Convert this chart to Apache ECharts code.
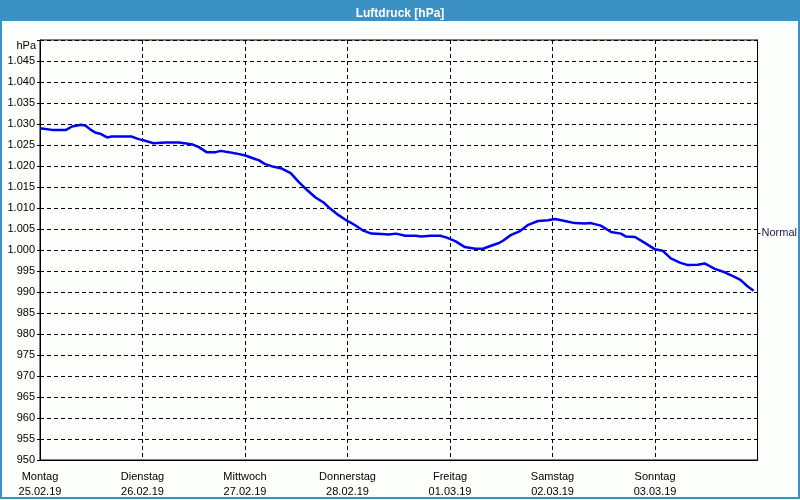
<!DOCTYPE html>
<html>
<head>
<meta charset="utf-8">
<script src="https://cdn.jsdelivr.net/npm/echarts@6/dist/echarts.min.js"></script>
<style>
html,body{margin:0;padding:0;background:#fcfefc;}
#chart{width:800px;height:500px;}
</style>
</head>
<body>
<div id="chart"></div>
<script>
const chartTitle = 'Luftdruck [hPa]';
const unitLabel = 'hPa';
const dayNames = ['Montag','Dienstag','Mittwoch','Donnerstag','Freitag','Samstag','Sonntag'];
const dayDates = ['25.02.19','26.02.19','27.02.19','28.02.19','01.03.19','02.03.19','03.03.19'];
const normalLabel = 'Normal';
const normalValue = 1004;
const hours = [0,2.8,6.1,7.5,9.6,10.7,11.9,13.1,14.3,15.7,16.8,21.5,23.1,24.3,26.6,29.4,32.5,35.5,37.2,39.0,41.1,42.3,44.2,45.8,48.1,50.5,51.2,52.6,54.7,56.6,58.7,60.5,62.4,64.5,66.4,68.0,69.9,71.7,73.8,75.7,77.6,79.9,81.6,83.4,85.5,87.9,89.3,91.4,93.7,95.1,97.2,99.5,101.9,103.7,105.6,107.3,108.4,110.3,112.4,114.3,116.6,118.9,120.6,122.9,125.2,127.6,129.0,131.3,133.7,136.0,137.2,139.3,141.6,143.9,145.8,147.7,149.8,151.7,154.0,155.6,158.0,160.3,162.6,164.0,165.7,167.1];
const pressure = [1029.0,1028.6,1028.6,1029.4,1029.8,1029.6,1028.6,1027.9,1027.6,1026.8,1027.0,1027.0,1026.4,1026.1,1025.4,1025.6,1025.6,1025.2,1024.5,1023.3,1023.3,1023.6,1023.3,1023.0,1022.5,1021.6,1021.4,1020.5,1019.8,1019.4,1018.3,1016.3,1014.4,1012.5,1011.3,1009.8,1008.3,1007.1,1005.9,1004.6,1003.9,1003.8,1003.7,1003.9,1003.4,1003.4,1003.2,1003.4,1003.4,1003.0,1002.1,1000.7,1000.3,1000.3,1001.0,1001.6,1002.2,1003.6,1004.5,1006.0,1006.9,1007.1,1007.4,1006.9,1006.4,1006.3,1006.4,1005.8,1004.3,1003.9,1003.2,1003.1,1001.7,1000.2,999.8,998.0,997.0,996.4,996.5,996.8,995.5,994.7,993.6,992.9,991.3,990.3];

const font = 'Liberation Sans';
const seriesData = hours.map((h, i) => [h, pressure[i]]);

function fmtY(v) {
  if (v >= 1050) return '';
  if (v >= 1000) return '1.' + String(v - 1000).padStart(3, '0');
  return String(v);
}

const chart = echarts.init(document.getElementById('chart'), null, {renderer: 'canvas'});
chart.setOption({
  animation: false,
  backgroundColor: '#fcfefc',
  title: {
    text: chartTitle,
    left: 'center',
    top: 3,
    textStyle: {color: '#ffffff', fontWeight: 'bold', fontSize: 12, fontFamily: font}
  },
  graphic: [
    {type: 'rect', z: -10, shape: {x: 0, y: 0, width: 800, height: 21}, style: {fill: '#3b90c4'}},
    {type: 'rect', z: -10, shape: {x: 1, y: 0, width: 798, height: 498}, style: {fill: null, stroke: '#3b90c4', lineWidth: 2}}
  ],
  grid: {
    left: 40, right: 40, top: 40, bottom: 40,
    show: true, borderColor: '#000', borderWidth: 1, backgroundColor: 'transparent'
  },
  xAxis: {
    type: 'value', min: 0, max: 168, interval: 24,
    axisLine: {show: true, lineStyle: {color: '#000', width: 1}},
    axisTick: {show: false},
    splitLine: {show: true, lineStyle: {color: '#000', type: [4, 3], width: 1}},
    axisLabel: {
      color: '#000', fontFamily: font, fontSize: 11, margin: 9, lineHeight: 15,
      showMaxLabel: false,
      formatter: function (v) {
        const i = Math.round(v / 24);
        if (i >= dayNames.length) return '';
        return dayNames[i] + '\n' + dayDates[i];
      }
    }
  },
  yAxis: [
    {
      type: 'value', min: 950, max: 1050, interval: 5,
      name: unitLabel, nameLocation: 'end', nameGap: -6,
      nameTextStyle: {color: '#000', fontFamily: font, fontSize: 11, align: 'right', verticalAlign: 'middle', padding: [0, 4, 0, 0]},
      axisLine: {show: true, lineStyle: {color: '#000', width: 1}},
      axisTick: {show: true, length: 3, lineStyle: {color: '#000'}},
      splitLine: {show: true, lineStyle: {color: '#000', type: [4, 3], width: 1}},
      axisLabel: {color: '#000', fontFamily: font, fontSize: 11, margin: 5, formatter: fmtY}
    },
    {
      type: 'value', min: 950, max: 1050, position: 'right',
      axisLine: {show: true, lineStyle: {color: '#000', width: 1}},
      axisTick: {show: true, length: 3, customValues: [normalValue], lineStyle: {color: '#000'}},
      splitLine: {show: false},
      axisLabel: {color: '#1c1c44', fontFamily: font, fontSize: 11, margin: 4, customValues: [normalValue], formatter: function () { return normalLabel; }}
    }
  ],
  series: [{
    type: 'line',
    data: seriesData,
    showSymbol: false,
    smooth: false,
    lineStyle: {color: '#0000f0', width: 2.5},
    itemStyle: {color: '#0000f0'}
  }]
});
</script>
</body>
</html>
